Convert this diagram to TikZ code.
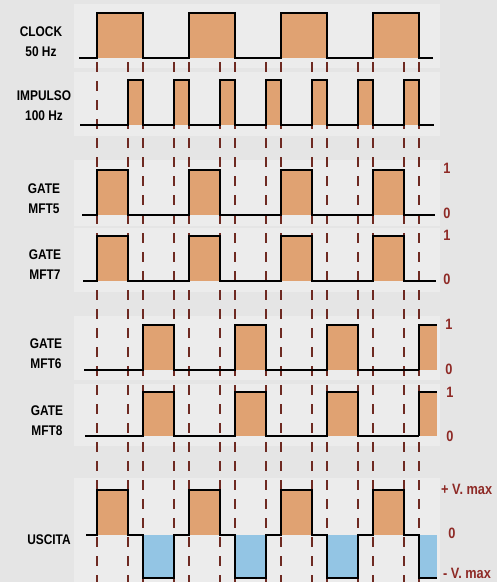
\documentclass[tikz,border=0pt]{standalone}
\usepackage{fontspec}
\newfontfamily\lblfont[FakeStretch=0.85]{Liberation Sans}
\definecolor{paper}{HTML}{E5E5E5}
\definecolor{band}{HTML}{ECECEC}
\definecolor{pulse}{HTML}{E0A272}
\definecolor{neg}{HTML}{93C5E4}
\definecolor{tick}{HTML}{6E2A22}
\definecolor{lvl}{HTML}{8E2A26}
\tikzset{
	wave/.style={line width=2.2pt, black, line join=miter},
	hi/.style={fill=pulse},
	lo/.style={fill=neg},
	guide/.style={draw=tick, line width=1.6pt, dash pattern=on 10pt off 9pt},
	sig/.style={font=\lblfont\bfseries\fontsize{14}{20}\selectfont, align=center, inner sep=0pt},
	lvllab/.style={font=\lblfont\bfseries\fontsize{15}{16}\selectfont, text=lvl, inner sep=0pt}
}
% #1 start, #2 end, #3 high level, #4 low level, #5 pulses a/b
\newcommand{\gatewave}[5]{%
	\foreach \a/\b in {#5} \fill[hi] (\a,#3) rectangle (\b,#4);
	\draw[wave] (#1,#4) \foreach \a/\b in {#5} { -- (\a,#4) -- (\a,#3) -- (\b,#3) -- (\b,#4) } -- (#2,#4);
}
\begin{document}
\begin{tikzpicture}[x=1pt, y=-1pt]
	\fill[paper] (0,0) rectangle (497,582);
	\useasboundingbox (0,0) rectangle (497,582);
	\foreach \ya/\yb in {4/68, 72/136, 160/226, 228/292, 316/380, 384/446, 478/582}
		\fill[band] (74,\ya) rectangle (440,\yb);
	\foreach \t in {97,128,143,174,189,220,235,266,281,312,327,358,373,404,419}
		\draw[guide] (\t,62) -- (\t,582);
	\gatewave{79}{433}{13}{58}{97/143,189/235,281/327,373/419}
	\gatewave{80}{434}{80}{125}{128/143,174/189,220/235,266/281,312/327,358/373,404/419}
	\gatewave{82}{435}{170}{215}{97/128,189/220,281/312,373/404}
	\gatewave{83}{436}{236}{281}{97/128,189/220,281/312,373/404}
	\gatewave{84}{419}{325}{370}{143/174,235/266,327/358}
	\fill[hi] (419,325) rectangle (437,370);
	\draw[wave] (419,370) -- (419,325) -- (437,325);
	\gatewave{85}{419}{392}{436}{143/174,235/266,327/358}
	\fill[hi] (419,392) rectangle (437,436);
	\draw[wave] (419,436) -- (419,392) -- (437,392);
	\foreach \pa/\pb/\na/\nb in {97/128/143/174, 189/220/235/266, 281/312/327/358, 373/404/419/437}{
		\fill[hi] (\pa,490) rectangle (\pb,535);
		\fill[lo] (\na,535) rectangle (\nb,578);
	}
	\draw[wave] (86,535) \foreach \pa/\pb/\na/\nb in {97/128/143/174, 189/220/235/266, 281/312/327/358}
		{ -- (\pa,535) -- (\pa,490) -- (\pb,490) -- (\pb,535) -- (\na,535) -- (\na,578) -- (\nb,578) -- (\nb,535) }
		-- (373,535) -- (373,490) -- (404,490) -- (404,535) -- (419,535) -- (419,578) -- (437,578);
	\node[sig] (clock) at (41,42) {CLOCK\\50 Hz};
	\node[sig] (impulso) at (44,106) {IMPULSO\\100 Hz};
	\node[sig] (mft5) at (44,199) {GATE\\MFT5};
	\node[sig] (mft7) at (45,265) {GATE\\MFT7};
	\node[sig] (mft6) at (46,354) {GATE\\MFT6};
	\node[sig] (mft8) at (47,421) {GATE\\MFT8};
	\node[sig] (uscita) at (49,540) {USCITA};
	\node[lvllab] (one5) at (447,168) {1};
	\node[lvllab] (zero5) at (447,213) {0};
	\node[lvllab] (one7) at (447,235) {1};
	\node[lvllab] (zero7) at (447,279) {0};
	\node[lvllab] (one6) at (449,324) {1};
	\node[lvllab] (zero6) at (449,369) {0};
	\node[lvllab] (one8) at (450,392) {1};
	\node[lvllab] (zero8) at (450,436) {0};
	\node[lvllab, anchor=west] (vmax) at (441,489) {+ V. max};
	\node[lvllab] (zerou) at (452,533) {0};
	\node[lvllab, anchor=west] (vmin) at (443,573) {- V. max};
\end{tikzpicture}
\end{document}
